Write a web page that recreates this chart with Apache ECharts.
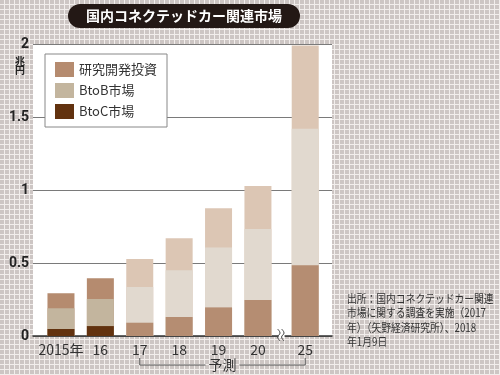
<!DOCTYPE html>
<html>
<head>
<meta charset="utf-8">
<script src="https://cdn.jsdelivr.net/npm/echarts@6/dist/echarts.min.js"></script>
<style>
  html, body { margin: 0; padding: 0; }
  #main { width: 500px; height: 375px; }
</style>
</head>
<body>
<div id="main"></div>
<script>
// 年（横軸ラベル）と横軸上の位置（20年と25年の間は省略）
var years = ['2015年', '16', '17', '18', '19', '20', '25'];
var slots = [0, 1, 2, 3, 4, 5, 6.2];
var forecastFrom = 2; // 17年以降は予測

// 単位：兆円
var btoc = [0.048, 0.068, 0.091, 0.13, 0.196, 0.247, 0.484];
var btob = [0.142, 0.185, 0.245, 0.32, 0.411, 0.486, 0.936];
var rnd = [0.102, 0.142, 0.191, 0.219, 0.268, 0.294, 0.57];

var yTicks = [0, 0.5, 1, 1.5, 2];

var font = '"Noto Sans CJK JP", "Noto Sans", sans-serif';

// 実績・予測で色が違う
var colors = {
  btoc: ['#62320f', '#b58d72'],
  btob: ['#c3b59e', '#e1d9cf'],
  rnd: ['#b58b6f', '#dcc6b4']
};

// 背景の方眼模様
var tile = document.createElement('canvas');
tile.width = 5;
tile.height = 5;
var ctx = tile.getContext('2d');
ctx.fillStyle = '#cdc6c4';
ctx.fillRect(0, 0, 5, 5);
ctx.fillStyle = '#f2eeec';
ctx.fillRect(4, 0, 1, 5);
ctx.fillRect(0, 4, 5, 1);

// 値軸の上では積み上げが効かないので、累計を重ねて描く
function cumulative(lists) {
  return btoc.map(function (v, i) {
    var s = 0;
    lists.forEach(function (l) { s += l[i]; });
    return s;
  });
}

function makeData(values, key) {
  return values.map(function (v, i) {
    return {
      value: [slots[i], v],
      itemStyle: { color: colors[key][i >= forecastFrom ? 1 : 0] }
    };
  });
}

var option = {
  backgroundColor: { image: tile, repeat: 'repeat' },
  animation: false,
  textStyle: { fontFamily: font },
  title: {
    text: '国内コネクテッドカー関連市場',
    left: 68,
    top: 4,
    backgroundColor: '#231815',
    borderRadius: 13,
    padding: [5, 18, 5, 18],
    textStyle: { color: '#fff', fontSize: 14, fontWeight: 'bold', fontFamily: font }
  },
  legend: {
    orient: 'vertical',
    left: 45,
    top: 54,
    icon: 'rect',
    itemWidth: 19,
    itemHeight: 15,
    itemGap: 6,
    padding: [8, 10, 8, 10],
    backgroundColor: '#fff',
    borderColor: '#888',
    borderWidth: 1,
    data: ['研究開発投資', 'BtoB市場', 'BtoC市場'],
    textStyle: { color: '#333', fontSize: 13, fontFamily: font }
  },
  grid: {
    left: 33,
    right: 168,
    top: 44,
    bottom: 39,
    show: true,
    backgroundColor: '#fff',
    borderWidth: 0
  },
  xAxis: {
    type: 'value',
    min: -0.71,
    max: 6.88,
    axisLine: { show: true, lineStyle: { color: '#333', width: 1.5 } },
    axisTick: { show: false },
    splitLine: { show: false },
    axisLabel: {
      customValues: slots,
      margin: 7,
      color: '#333',
      fontSize: 14,
      fontFamily: font,
      formatter: function (v) {
        var i = slots.indexOf(v);
        return i < 0 ? '' : years[i];
      }
    }
  },
  yAxis: {
    type: 'value',
    min: 0,
    max: 2,
    interval: 0.5,
    axisLine: { show: false },
    axisTick: { show: false },
    splitLine: { lineStyle: { color: '#7a7a7a', width: 1 } },
    axisLabel: {
      margin: 4,
      color: '#222',
      fontSize: 14,
      fontWeight: 'bold',
      fontFamily: 'Roboto, sans-serif',
      formatter: function (v) {
        return yTicks.indexOf(v) < 0 ? '' : String(v);
      }
    }
  },
  series: [
    {
      name: '研究開発投資', type: 'bar', barWidth: 27, barGap: '-100%',
      itemStyle: { color: colors.rnd[0] },
      data: makeData(cumulative([btoc, btob, rnd]), 'rnd')
    },
    {
      name: 'BtoB市場', type: 'bar', barWidth: 27, barGap: '-100%',
      itemStyle: { color: colors.btob[0] },
      data: makeData(cumulative([btoc, btob]), 'btob')
    },
    {
      name: 'BtoC市場', type: 'bar', barWidth: 27, barGap: '-100%',
      itemStyle: { color: colors.btoc[0] },
      data: makeData(btoc, 'btoc')
    }
  ]
};

var myChart = echarts.init(document.getElementById('main'), null, { renderer: 'canvas' });
myChart.setOption(option);

// 注記類（位置は軸から計算）
var p2 = myChart.convertToPixel({ gridIndex: 0 }, [slots[forecastFrom], 0]);
var pLast = myChart.convertToPixel({ gridIndex: 0 }, [slots[slots.length - 1], 0]);
var pBreak = myChart.convertToPixel({ gridIndex: 0 }, [(slots[5] + slots[6]) / 2, 0]);
var pTop = myChart.convertToPixel({ gridIndex: 0 }, [slots[0], 2]);
var bx = pBreak[0], by = pBreak[1];
var bracketY = by + 29;
var mid = (p2[0] + pLast[0]) / 2;

function wave(x0) {
  return [[x0, by - 7], [x0 + 2.5, by - 3], [x0, by + 1], [x0 + 2.5, by + 5]];
}

myChart.setOption({
  graphic: [
    // 単位
    {
      type: 'text', left: 15, top: pTop[1] + 12,
      style: { text: '兆\n円', fontSize: 10, lineHeight: 9, fill: '#222', fontFamily: font, fontWeight: 'bold' }
    },
    // 省略記号
    {
      type: 'rect', shape: { x: bx - 3, y: by - 2, width: 6, height: 4 },
      style: { fill: '#fff' }, z: 50
    },
    {
      type: 'polyline', z: 51,
      shape: { points: wave(bx - 4), smooth: 0.4 },
      style: { stroke: '#444', lineWidth: 1, fill: null }
    },
    {
      type: 'polyline', z: 51,
      shape: { points: wave(bx), smooth: 0.4 },
      style: { stroke: '#444', lineWidth: 1, fill: null }
    },
    // 予測の範囲
    {
      type: 'polyline',
      shape: { points: [[p2[0], bracketY - 7], [p2[0], bracketY], [mid - 17, bracketY]] },
      style: { stroke: '#555', lineWidth: 1, fill: null }
    },
    {
      type: 'polyline',
      shape: { points: [[mid + 17, bracketY], [pLast[0], bracketY], [pLast[0], bracketY - 7]] },
      style: { stroke: '#555', lineWidth: 1, fill: null }
    },
    {
      type: 'text', x: mid, y: bracketY,
      style: { text: '予測', fontSize: 14, fill: '#333', fontFamily: font, align: 'center', verticalAlign: 'middle' }
    },
    // 出所
    {
      type: 'text', x: 347, y: 291, scaleX: 0.85,
      style: {
        text: '出所：国内コネクテッドカー関連\n市場に関する調査を実施（2017\n年）（矢野経済研究所）、2018\n年1月9日',
        fontSize: 11.5, lineHeight: 14.5, fill: '#333', fontFamily: font
      }
    }
  ]
});
</script>
</body>
</html>
